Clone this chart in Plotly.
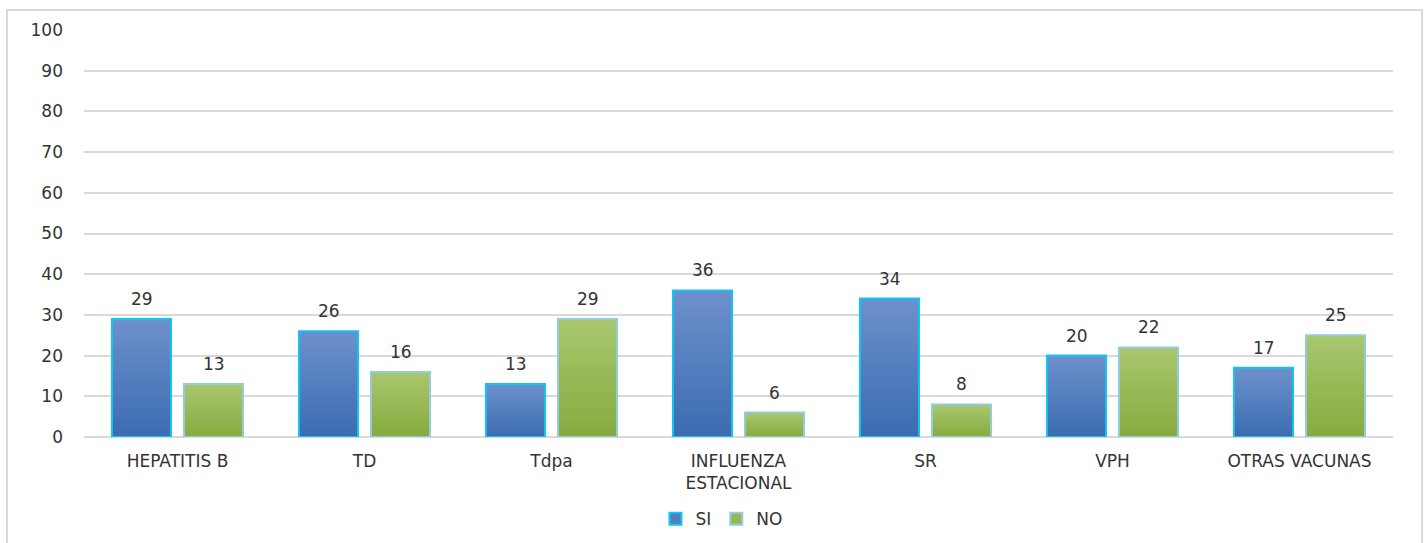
import plotly.graph_objects as go

categories = ["HEPATITIS B", "TD", "Tdpa", "INFLUENZA<br>ESTACIONAL", "SR", "VPH", "OTRAS VACUNAS"]
si_values = [29, 26, 13, 36, 34, 20, 17]
no_values = [13, 16, 29, 6, 8, 22, 25]
y_ticks = [0, 10, 20, 30, 40, 50, 60, 70, 80, 90, 100]

FONT = "DejaVu Sans"
TEXT = "#333333"


def lerp(c1, c2, t):
    return "rgb({},{},{})".format(*[round(a + (b - a) * t) for a, b in zip(c1, c2)])


series = [
    ("SI", si_values, (108, 144, 203), (58, 107, 176), "#12C4F2", -36),
    ("NO", no_values, (169, 198, 110), (134, 170, 62), "#92CDDC", 36),
]

fig = go.Figure()
STEPS = 24
annotations = []
for name, vals, top, bottom, edge, shift in series:
    # vertical gradient: overlapping bars, tallest (lightest) drawn first
    for k in range(STEPS, 0, -1):
        frac = k / STEPS
        fig.add_trace(go.Bar(
            x=categories, y=[v * frac for v in vals], offsetgroup=name,
            marker=dict(color=lerp(bottom, top, frac), line=dict(width=0)),
            showlegend=False, hoverinfo="skip",
        ))
    # outline
    fig.add_trace(go.Bar(
        x=categories, y=vals, offsetgroup=name, name=name,
        marker=dict(color="rgba(0,0,0,0)", line=dict(color=edge, width=2)),
        showlegend=False,
    ))
    # legend swatch
    fig.add_trace(go.Bar(
        x=[None], y=[None], name=name,
        marker=dict(color=lerp(bottom, top, 0.5), line=dict(color=edge, width=2)),
        showlegend=True,
    ))
    # value labels above each bar
    for i, v in enumerate(vals):
        annotations.append(dict(
            x=i, y=v, xref="x", yref="y", text=str(v), showarrow=False,
            xshift=shift, yshift=20, yanchor="middle",
            font=dict(family=FONT, size=17, color=TEXT),
        ))

fig.update_layout(
    width=1426, height=543,
    margin=dict(l=84, r=33, t=30, b=106, autoexpand=False),
    paper_bgcolor="white", plot_bgcolor="white",
    barmode="group", bargap=0.23, bargroupgap=0.18,
    font=dict(family=FONT, size=17, color=TEXT),
    legend=dict(orientation="h", x=0.487, xanchor="center", yref="container", y=0.044,
                yanchor="middle", font=dict(family=FONT, size=17, color=TEXT),
                itemwidth=30, traceorder="normal"),
    xaxis=dict(showgrid=False, showline=False, ticks="", tickfont=dict(size=17),
               ticklabelstandoff=12, automargin=False),
    yaxis=dict(range=[0, 100], tickvals=y_ticks, showgrid=True, gridcolor="#D9D9D9",
               gridwidth=1.5, zeroline=True, zerolinecolor="#D9D9D9", zerolinewidth=1.5,
               ticks="", ticklabelstandoff=20, tickfont=dict(size=17), automargin=False),
    annotations=annotations,
    shapes=[dict(type="rect", xref="paper", yref="paper",
                 x0=-0.0588, x1=1.0222, y0=-0.30, y1=1.049,
                 line=dict(color="#D9D9D9", width=2), fillcolor="rgba(0,0,0,0)", layer="below")],
)

fig.write_html("out.html")
